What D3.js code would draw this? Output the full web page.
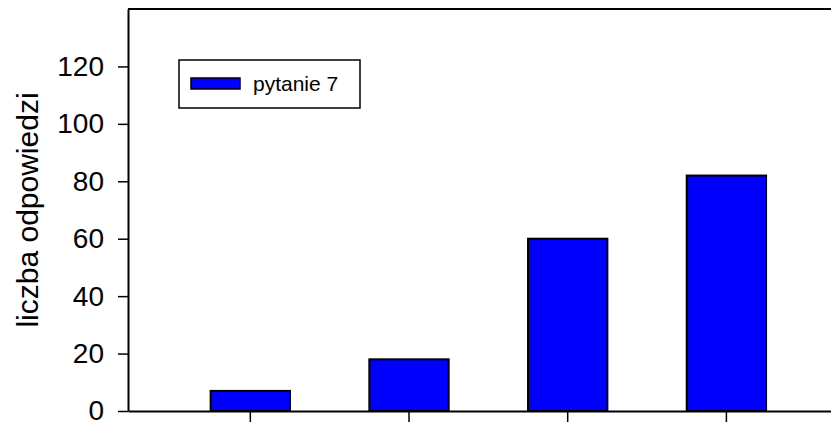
<!DOCTYPE html>
<html>
<head>
<meta charset="utf-8">
<script src="https://cdn.jsdelivr.net/npm/d3@7"></script>
<style>
  html, body { margin: 0; padding: 0; background: #fff; }
  svg { display: block; font-family: Arial, "Liberation Sans", sans-serif; }
</style>
</head>
<body>
<svg id="chart" width="831" height="424"></svg>
<script>
const categories = ["1", "2", "3", "4"];
const values = [7, 18, 60, 82];
const seriesName = "pytanie 7";
const yTicks = [0, 20, 40, 60, 80, 100, 120];
const yTitle = "liczba odpowiedzi";

const W = 831, H = 424;
const margin = { left: 128, right: 0, top: 9, bottom: 13 };
const svg = d3.select("#chart");

const x = d3.scaleBand()
  .domain(categories)
  .range([margin.left, W - margin.right])
  .paddingInner(0.5)
  .paddingOuter(0.465)
  .align(0.56);

const y = d3.scaleLinear()
  .domain([0, 140])
  .range([H - margin.bottom, margin.top]);

// bars
svg.append("g").selectAll("rect")
  .data(values)
  .join("rect")
  .attr("x", (d, i) => x(categories[i]))
  .attr("y", d => y(d))
  .attr("width", x.bandwidth())
  .attr("height", d => y(0) - y(d))
  .attr("fill", "#0000ff")
  .attr("stroke", "#000")
  .attr("stroke-width", 2);

// top frame line
svg.append("line")
  .attr("x1", margin.left).attr("x2", W)
  .attr("y1", y(140)).attr("y2", y(140))
  .attr("stroke", "#000").attr("stroke-width", 2);

// y axis
const yAxis = svg.append("g")
  .attr("transform", `translate(${margin.left},0)`)
  .call(d3.axisLeft(y).tickValues(yTicks).tickSize(10).tickPadding(14).tickSizeOuter(0));
yAxis.select(".domain").attr("stroke-width", 2);
yAxis.selectAll(".tick line").attr("stroke-width", 1.5);
yAxis.selectAll(".tick text")
  .attr("font-size", 28)
  .attr("fill", "#000")
  .attr("font-family", "Arial, 'Liberation Sans', sans-serif");

// x axis
const xAxis = svg.append("g")
  .attr("transform", `translate(0,${y(0)})`)
  .call(d3.axisBottom(x).tickSize(11).tickSizeOuter(0).tickFormat(""));
xAxis.select(".domain").attr("stroke-width", 2);
xAxis.selectAll(".tick line").attr("stroke-width", 1.5);

// y title
svg.append("text")
  .attr("transform", `translate(38,${(y(0) + y(140)) / 2}) rotate(-90)`)
  .attr("text-anchor", "middle")
  .attr("font-size", 30)
  .attr("fill", "#000")
  .text(yTitle);

// legend
const lg = svg.append("g");
lg.append("rect")
  .attr("x", 179).attr("y", 60).attr("width", 181).attr("height", 48)
  .attr("fill", "#fff").attr("stroke", "#000").attr("stroke-width", 1.5);
lg.append("rect")
  .attr("x", 191).attr("y", 78).attr("width", 49).attr("height", 11)
  .attr("fill", "#0000ff").attr("stroke", "#000").attr("stroke-width", 1.5);
lg.append("text")
  .attr("x", 253).attr("y", 91)
  .attr("font-size", 21)
  .attr("fill", "#000")
  .text(seriesName);
</script>
</body>
</html>
